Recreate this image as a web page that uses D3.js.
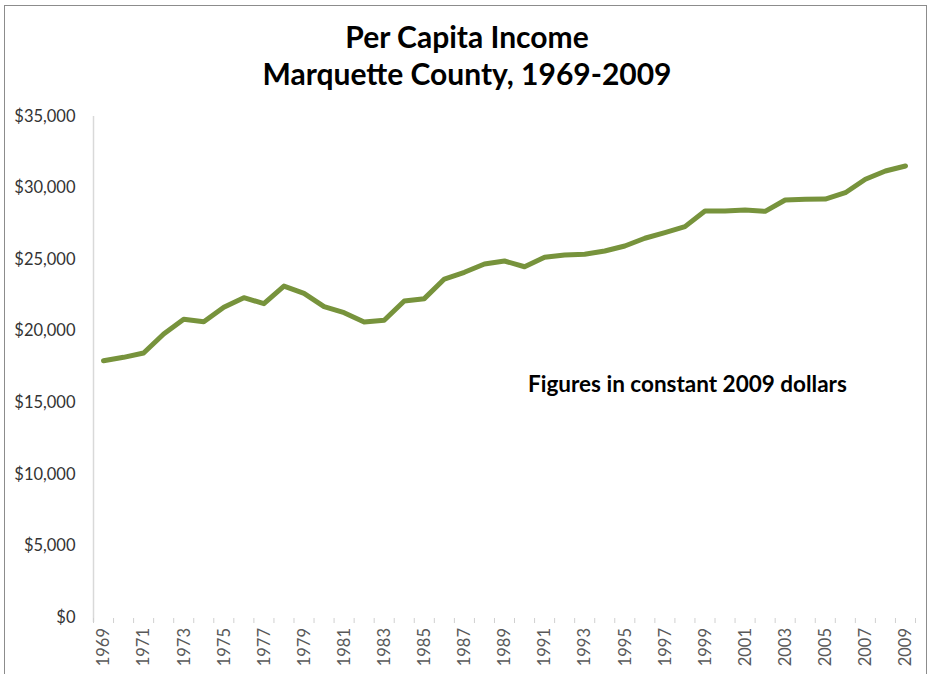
<!DOCTYPE html>
<html>
<head>
<meta charset="utf-8">
<script src="https://cdn.jsdelivr.net/npm/d3@7"></script>
<style>
  body { margin: 0; background: #fff; }
  svg { display: block; }
</style>
</head>
<body>
<div id="chart"></div>
<script>
// per capita income, constant 2009 dollars
let years = d3.range(1969, 2010);
let income = [
    17900, 18140, 18440, 19770, 20800, 20630, 21640, 22310, 21890, 23120,
    22610, 21680, 21260, 20610, 20730, 22080, 22240, 23610, 24080, 24660,
    24870, 24470, 25130, 25290, 25340, 25570, 25920, 26460, 26850, 27270,
    28360, 28360, 28430, 28340, 29130, 29180, 29200, 29640, 30580, 31160,
    31510
];
let yTicks = [0, 5000, 10000, 15000, 20000, 25000, 30000, 35000];
let titleLines = ["Per Capita Income", "Marquette County, 1969-2009"];
let note = "Figures in constant 2009 dollars";

let data = years.map((y, i) => ({year: y, value: income[i]}));

let W = 931, H = 674;
let margin = {top: 116, bottom: 57, left: 93.5, right: 15.5};

let svg = d3.select('#chart').append('svg')
    .attr('width', W)
    .attr('height', H);

// outer chart border
svg.append('rect')
    .attr('x', 4.5).attr('y', 5.5)
    .attr('width', 922).attr('height', 680)
    .attr('fill', 'none')
    .attr('stroke', '#8c8c8c')
    .attr('stroke-width', 1);

let xScale = d3.scaleBand().domain(years).range([margin.left, W - margin.right]).padding(0);
let yScale = d3.scaleLinear().domain([0, 35000]).range([H - margin.bottom, margin.top]);

// y axis
let yAxis = d3.axisLeft(yScale)
    .tickValues(yTicks)
    .tickSize(0)
    .tickPadding(18)
    .tickFormat(d3.format('$,'));

let gy = svg.append('g')
    .attr('class', 'y-axis')
    .attr('transform', `translate(${margin.left},0)`)
    .call(yAxis);
gy.select('.domain').remove();
gy.selectAll('text')
    .style('font-family', 'Lato, sans-serif')
    .style('font-size', '16.5px')
    .style('fill', '#333');

svg.append('line')
    .attr('x1', margin.left).attr('x2', margin.left)
    .attr('y1', yScale(35000)).attr('y2', yScale(0) + 5)
    .attr('stroke', '#d9d9d9')
    .attr('stroke-width', 1.5);

// x axis: tick marks between categories, labels on odd years
let edges = years.map(y => xScale(y)).concat([xScale.range()[1]]);
svg.append('g')
    .attr('class', 'x-ticks')
    .selectAll('line')
    .data(edges)
    .enter()
    .append('line')
    .attr('x1', d => d).attr('x2', d => d)
    .attr('y1', yScale(0) + 1).attr('y2', yScale(0) + 6)
    .attr('stroke', '#d0d0d0')
    .attr('stroke-width', 1);

let xAxis = d3.axisBottom(xScale)
    .tickValues(years.filter(y => (y - 1969) % 2 === 0))
    .tickSize(0);

let gx = svg.append('g')
    .attr('class', 'x-axis')
    .attr('transform', `translate(0,${yScale(0)})`)
    .call(xAxis);
gx.select('.domain').remove();
gx.selectAll('text')
    .attr('transform', 'rotate(-90)')
    .attr('text-anchor', 'end')
    .attr('x', -11)
    .attr('y', 0)
    .attr('dy', '0.35em')
    .style('font-family', 'Lato, sans-serif')
    .style('font-size', '16.5px')
    .style('fill', '#595959');

// the line
let line = d3.line()
    .x(d => xScale(d.year) + xScale.bandwidth() / 2)
    .y(d => yScale(d.value));

svg.append('path')
    .datum(data)
    .attr('d', line)
    .attr('fill', 'none')
    .attr('stroke', '#77933C')
    .attr('stroke-width', 5)
    .attr('stroke-linejoin', 'round')
    .attr('stroke-linecap', 'round');

// title
svg.append('g')
    .selectAll('text')
    .data(titleLines)
    .enter()
    .append('text')
    .attr('x', 467)
    .attr('y', (d, i) => 48 + i * 37)
    .attr('text-anchor', 'middle')
    .style('font-family', 'Lato, sans-serif')
    .style('font-weight', 'bold')
    .style('font-size', '30px')
    .style('fill', '#000')
    .text(d => d);

svg.append('text')
    .attr('x', 528)
    .attr('y', 391.5)
    .style('font-family', 'Lato, sans-serif')
    .style('font-weight', 'bold')
    .style('font-size', '22.5px')
    .style('fill', '#000')
    .text(note);
</script>
</body>
</html>
